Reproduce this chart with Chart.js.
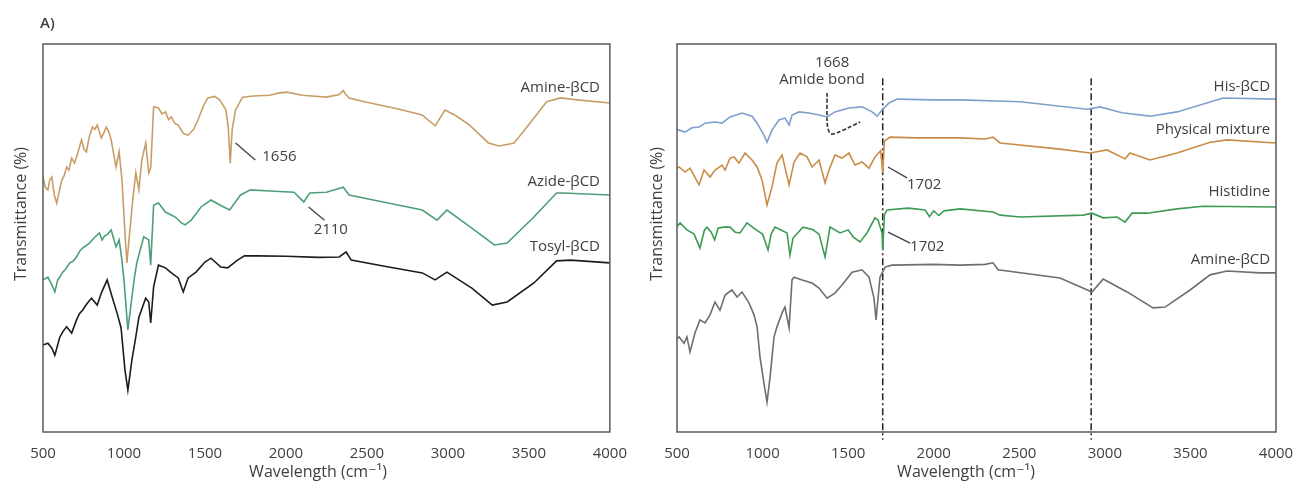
<!DOCTYPE html>
<html><head><meta charset="utf-8">
<script src="https://cdn.jsdelivr.net/npm/chart.js@4.4.1/dist/chart.umd.min.js"></script>
<style>
html,body{margin:0;padding:0;background:#fff;overflow:hidden;width:1293px;height:483px;position:relative}
#wa{position:absolute;left:0;top:0;width:640px;height:483px}
#wb{position:absolute;left:640px;top:0;width:680px;height:483px}
</style></head><body>
<div id="wa"><canvas id="ca"></canvas></div>
<div id="wb"><canvas id="cb"></canvas></div>
<script>
// ---- data: [wavenumber (cm-1), transmittance (a.u., 0-100)] ----
const xTicks = [500, 1000, 1500, 2000, 2500, 3000, 3500, 4000];

const amineA = [[500,65.7],[515,63],[530,62.4],[542,65],[555,65.7],[570,61],[585,59.0],[600,62],[616,64.9],[630,66],[646,68.3],[660,67.5],[677,70.6],[695,69.3],[715,72],[738,75.3],[752,73],[768,72.2],[785,76],[805,78.6],[820,78],[835,79.1],[860,75.8],[875,77],[890,78.6],[905,77.5],[921,75.3],[935,72],[951,68.3],[970,72.2],[988,64.9],[1005,52],[1018,43.6],[1031,49.5],[1050,58],[1060,62],[1073,66.8],[1092,62.4],[1110,70],[1134,74.5],[1145,70],[1153,66.8],[1165,68],[1183,83.8],[1213,83.5],[1235,82],[1256,82.5],[1275,80.5],[1293,81.2],[1315,79.5],[1335,79.1],[1365,77],[1396,76.5],[1430,78],[1457,80.4],[1490,84],[1518,86.1],[1560,86.5],[1591,85.6],[1630,83],[1645,78],[1656,69.3],[1668,78],[1689,83.0],[1732,86.3],[1800,86.6],[1900,86.8],[1960,87.4],[2006,87.6],[2100,86.8],[2250,86.3],[2330,87],[2354,88],[2370,87],[2390,86.1],[2500,85],[2700,83.2],[2841,81.7],[2921,78.9],[2982,83.0],[3050,81.5],[3134,79.1],[3250,74.5],[3317,73.7],[3409,74.5],[3488,78.6],[3610,85.1],[3695,86.1],[3800,85.6],[4000,84.8]];

const azideA = [[500,39.2],[530,39.9],[555,37.9],[573,36.1],[591,39.2],[605,40],[622,41.2],[640,42],[665,43.6],[685,44],[707,45.1],[725,46.5],[744,47.4],[765,48],[787,48.7],[815,50],[848,51.3],[865,49.5],[880,50.5],[900,51],[921,52.1],[935,50],[951,47.7],[970,49.5],[985,45],[1000,39.2],[1024,26.3],[1049,34.8],[1065,40],[1079,43.6],[1092,45.6],[1122,50.3],[1153,49.5],[1165,43.0],[1183,58.5],[1213,59.0],[1256,56.7],[1317,55.4],[1354,53.9],[1378,53.4],[1415,54.6],[1476,58.0],[1537,59.8],[1592,58.5],[1653,57.2],[1683,59.0],[1720,61.1],[1781,62.4],[1900,62.1],[2050,61.8],[2110,59.3],[2147,61.6],[2250,61.8],[2354,63.1],[2390,61.1],[2600,59.3],[2842,57.2],[2933,54.6],[2994,57.2],[3150,52.5],[3287,48.2],[3366,48.7],[3531,55.4],[3671,61.6],[3714,61.6],[4000,61.1]];

const tosylA = [[500,22.4],[530,22.9],[555,21.6],[573,19.8],[604,24.5],[625,26],[646,27.1],[677,25.5],[707,28.9],[725,30.5],[744,31.4],[770,33],[799,34.5],[835,32.7],[860,35.8],[896,39.2],[927,34.8],[957,30.7],[982,26.8],[1006,16.0],[1024,10.8],[1049,18.6],[1073,24.5],[1092,29.6],[1134,34.5],[1153,33.5],[1165,28.1],[1183,37.4],[1213,43.0],[1256,42.3],[1293,41.0],[1335,39.7],[1366,36.1],[1396,39.7],[1445,41.2],[1500,43.8],[1537,44.8],[1598,42.5],[1640,42.3],[1701,44.3],[1744,45.4],[1823,45.4],[2000,45.3],[2200,45.0],[2329,45.1],[2372,46.4],[2403,44.3],[2600,42.8],[2842,41.0],[2921,39.2],[2994,41.2],[3150,37],[3274,32.7],[3366,33.5],[3531,38.4],[3671,44.1],[3756,44.3],[4000,43.6]];

const hisB = [[500,78],[512,77.8],[547,77.3],[588,78.4],[629,78.6],[664,79.6],[722,79.9],[763,79.6],[810,81.2],[880,82.2],[938,81.4],[968,79.6],[1008,76.5],[1026,74.7],[1055,77.8],[1096,80.4],[1131,80.9],[1155,79.1],[1172,81.7],[1213,82.5],[1271,82.2],[1330,81.7],[1377,81.2],[1423,82.5],[1505,83.5],[1581,83.8],[1640,82.5],[1669,81.4],[1698,83.0],[1739,84.8],[1786,85.8],[2000,85.6],[2154,85.6],[2505,85.1],[2896,83.2],[2972,83.8],[3100,82.3],[3264,81.4],[3422,82.5],[3691,86.1],[4000,85.8]];

const mixB = [[500,68],[512,68.3],[547,67.0],[576,68.0],[600,66],[629,63.7],[658,67.5],[693,65.7],[722,67.5],[763,68.8],[781,67.5],[810,70.6],[833,70.9],[862,69.3],[897,71.9],[938,70.1],[968,68.3],[997,64.9],[1026,58.5],[1055,63.1],[1084,69.3],[1114,71.4],[1155,63.7],[1184,69.6],[1219,71.9],[1260,70.9],[1289,68.3],[1330,70.1],[1365,64.2],[1388,67.5],[1423,71.4],[1464,70.6],[1505,71.9],[1540,68.8],[1581,69.6],[1622,68.0],[1657,70.9],[1690,72.5],[1702,66.8],[1712,75.0],[1745,76.0],[1900,75.8],[2154,75.8],[2300,75.5],[2347,76.0],[2388,74.5],[2738,72.9],[2914,71.9],[3013,72.7],[3118,70.4],[3147,71.9],[3264,70.1],[3422,71.9],[3615,74.7],[3714,75.3],[4000,74.5]];

const histidineB = [[500,53],[518,53.9],[558,52.1],[600,51],[634,47.4],[660,52],[675,52.8],[700,51.5],[720,49.5],[740,52.5],[770,52.8],[810,52.8],[840,51.5],[868,51.3],[909,53.9],[950,52.5],[1000,51],[1032,46.9],[1050,51],[1073,52.8],[1110,52],[1143,51.3],[1160,45.6],[1178,50],[1236,52.8],[1295,52.1],[1330,51],[1365,45.1],[1394,52.8],[1453,51.3],[1500,52.1],[1529,50.3],[1569,49.0],[1610,51.3],[1657,55.2],[1675,54.6],[1698,51.3],[1702,46.9],[1712,56],[1727,57.2],[1850,57.7],[1950,57.2],[1975,55.5],[2000,57],[2030,55.8],[2060,57],[2154,57.5],[2347,56.7],[2388,55.9],[2505,55.4],[2873,55.9],[2925,56.4],[2990,55.2],[3071,55.4],[3118,54.1],[3159,56.4],[3247,56.4],[3422,57.5],[3574,58.2],[4000,58.0]];

const amineB = [[500,24],[512,24.5],[541,22.9],[558,24.5],[576,20.6],[605,25.5],[634,28.9],[664,28.1],[693,30.2],[722,33.5],[751,31.4],[781,35.3],[821,36.6],[851,34.8],[880,36.1],[921,33.2],[950,30.2],[968,27.1],[985,19.3],[1008,12.6],[1026,7.7],[1044,14.2],[1067,24.5],[1084,27.1],[1114,30.7],[1131,32.2],[1155,26.8],[1172,39.2],[1184,39.9],[1231,39.2],[1289,38.4],[1330,37.1],[1377,34.5],[1423,35.8],[1464,37.9],[1523,41.2],[1581,41.8],[1622,39.9],[1651,34.5],[1663,28.9],[1686,39.9],[1716,42.5],[1756,43.0],[2000,43.2],[2154,43.0],[2300,43.2],[2347,43.6],[2376,41.8],[2738,39.7],[2925,36.1],[2990,39.4],[3130,36.1],[3282,32.0],[3352,32.2],[3498,36.6],[3615,40.5],[3714,41.5],[3907,41.0],[4000,41.0]];

// reference lines / leaders (data coordinates)
const markerLines = [1702, 2920];
const amideCurve = [[1377,87.4],[1377,79.9],[1385,77.8],[1400,76.8],[1440,77.2],[1500,78.4],[1570,79.9]];

const TXT = '#404040';
const FONT = '"Open Sans", "DejaVu Sans", sans-serif';

function pts(a){ return a.map(p => ({x:p[0], y:p[1]})); }
function series(a, color, w){ return {data: pts(a), borderColor: color, borderWidth: w||1.6, pointRadius: 0, tension: 0, fill:false}; }
function leader(a, color){ return {data: pts(a), borderColor: color||'#404040', borderWidth: 1.3, pointRadius: 0, tension: 0}; }
function vline(x){ return {data: [{x:x,y:91.2},{x:x,y:-2}], borderColor:'#222', borderWidth:1.5, borderDash:[7,3,2,3], pointRadius:0, clip:false}; }

const framePlugin = {
  id: 'frame',
  afterDatasetsDraw(chart, args, opts) {
    const {ctx, chartArea:a, scales:{x, y}} = chart;
    ctx.save();
    ctx.strokeStyle = '#595959'; ctx.lineWidth = 1.5;
    ctx.strokeRect(a.left, a.top, a.right - a.left, a.bottom - a.top);
    ctx.fillStyle = TXT;
    (opts.texts || []).forEach(t => {
      ctx.font = (t.weight || '400') + ' ' + (t.size || 15) + 'px ' + FONT;
      ctx.textAlign = t.align || 'left';
      ctx.textBaseline = 'middle';
      ctx.fillText(t.text, x.getPixelForValue(t.x), y.getPixelForValue(t.y));
    });
    // panel letter
    ctx.font = '600 15px ' + FONT; ctx.textAlign = 'left'; ctx.textBaseline = 'middle';
    ctx.fillText(opts.letter, opts.letterX, opts.letterY);
    // axis titles
    ctx.font = '16px ' + FONT; ctx.textAlign = 'center';
    ctx.fillText('Wavelength (cm\u207B\u00B9)', opts.xTitleX, 472);
    ctx.save();
    ctx.translate(opts.yTitleX, 214); ctx.rotate(-Math.PI/2);
    ctx.fillText('Transmittance (%)', 0, 0);
    ctx.restore();
    ctx.restore();
  }
};

function makeChart(id, datasets, padLeft, padRight, plugOpts) {
  return new Chart(document.getElementById(id), {
    type: 'line',
    data: { datasets },
    plugins: [framePlugin],
    options: {
      responsive: true, maintainAspectRatio: false, animation: false,
      layout: { padding: { left: padLeft, right: padRight, top: 44, bottom: 0 } },
      plugins: { legend: {display:false}, tooltip: {enabled:false}, frame: plugOpts },
      scales: {
        x: {
          type: 'linear', min: 500, max: 4000,
          grid: {display:false, drawTicks:false}, border: {display:false},
          afterBuildTicks: s => { s.ticks = xTicks.map(v => ({value:v})); },
          ticks: { autoSkip:false, color: TXT, padding: 13, font: {size: 15, family: FONT},
                   callback: v => String(v) },
          afterFit: s => { s.height = 51; }
        },
        y: { type: 'linear', min: 0, max: 100, display: false }
      }
    }
  });
}

makeChart('ca', [
  series(amineA, '#c99d68'),
  series(azideA, '#4e9f78'),
  series(tosylA, '#1c1c1c'),
  leader([[1689,74.5],[1811,70.1]]),
  leader([[2140,58.0],[2238,54.6]])
], 43, 23, {
  letter: 'A)', letterX: 40, letterY: 24, xTitleX: 318, yTitleX: 21,
  texts: [
    {text:'Amine-\u03B2CD', x:3939, y:88.7, align:'right'},
    {text:'Azide-\u03B2CD', x:3939, y:64.4, align:'right'},
    {text:'Tosyl-\u03B2CD', x:3939, y:47.7, align:'right'},
    {text:'1656', x:1854, y:70.9},
    {text:'2110', x:2171, y:52.1}
  ]
});

makeChart('cb', [
  series(hisB, '#7f9fcc'),
  series(mixB, '#c98c47'),
  series(histidineB, '#3f9a55'),
  series(amineB, '#6e6e6e'),
  vline(markerLines[0]),
  vline(markerLines[1]),
  {data: pts(amideCurve), borderColor:'#333', borderWidth:1.6, borderDash:[4,2], pointRadius:0, tension:0.3},
  leader([[1733,68.3],[1844,65.5]]),
  leader([[1733,51.5],[1862,48.7]])
], 37, 44, {
  letter: 'B)', letterX: 683, letterY: 27, xTitleX: 326, yTitleX: 17,
  texts: [
    {text:'His-\u03B2CD', x:3966, y:88.9, align:'right'},
    {text:'Physical mixture', x:3966, y:77.8, align:'right'},
    {text:'Histidine', x:3966, y:61.9, align:'right'},
    {text:'Amine-\u03B2CD', x:3966, y:44.3, align:'right'},
    {text:'1668', x:1406, y:95.1, align:'center'},
    {text:'Amide bond', x:1347, y:90.7, align:'center'},
    {text:'1702', x:1844, y:63.7},
    {text:'1702', x:1862, y:47.7}
  ]
});
</script>
</body></html>
